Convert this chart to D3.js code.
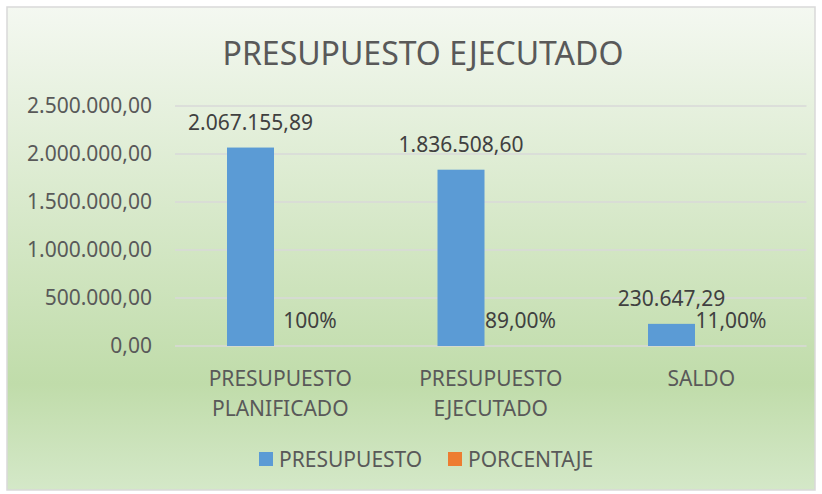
<!DOCTYPE html>
<html>
<head>
<meta charset="utf-8">
<script src="https://cdn.jsdelivr.net/npm/d3@7"></script>
<style>
  body { margin: 0; background: #fff; }
  text { font-family: "Noto Sans", sans-serif; }
</style>
</head>
<body>
<div id="chart"></div>
<script>
// data
var categories = [["PRESUPUESTO", "PLANIFICADO"], ["PRESUPUESTO", "EJECUTADO"], ["SALDO"]];
var seriesNames = ["PRESUPUESTO", "PORCENTAJE"];
var presupuesto = [2067155.89, 1836508.60, 230647.29];
var porcentaje = [1, 0.89, 0.11];
var porcentajeLabels = ["100%", "89,00%", "11,00%"];
var yTicks = [0, 500000, 1000000, 1500000, 2000000, 2500000];

var colors = ["#5b9bd5", "#ed7d31"];

var W = 822, H = 494;
var margin = {top: 106, right: 16, bottom: 148, left: 175};

var es = d3.formatLocale({decimal: ",", thousands: ".", grouping: [3], currency: ["", ""]});
var fmt = es.format(",.2f");

var svg = d3.select("#chart")
  .append("svg")
    .attr("width", W)
    .attr("height", H);

// background gradient
var grad = svg.append("defs").append("linearGradient")
    .attr("id", "bg")
    .attr("x1", 0).attr("y1", 0).attr("x2", 0).attr("y2", 1);
grad.append("stop").attr("offset", "0%").attr("stop-color", "#f4f8f1");
grad.append("stop").attr("offset", "78%").attr("stop-color", "#c0dcaa");
grad.append("stop").attr("offset", "100%").attr("stop-color", "#d4e8c8");

svg.append("rect")
    .attr("x", 7).attr("y", 7)
    .attr("width", 808).attr("height", 483)
    .attr("fill", "url(#bg)")
    .attr("stroke", "#d9d9d9")
    .attr("stroke-width", 1.5);

// title
svg.append("text")
    .attr("x", 423).attr("y", 65)
    .attr("text-anchor", "middle")
    .attr("font-size", 32)
    .attr("fill", "#595959")
    .text("PRESUPUESTO EJECUTADO");

// scales
var x0 = d3.scaleBand()
  .domain(d3.range(categories.length))
  .range([margin.left, W - margin.right + 0.5]);

var x1 = d3.scaleBand()
  .domain(seriesNames)
  .range([0, x0.bandwidth()])
  .paddingInner(0.21)
  .paddingOuter(0.874)
  .align(0.5);

var y = d3.scaleLinear()
  .domain([0, 2500000])
  .range([H - margin.bottom, margin.top]);

// gridlines
svg.append("g")
  .selectAll("line")
  .data(yTicks)
  .enter()
  .append("line")
    .attr("x1", margin.left)
    .attr("x2", W - margin.right + 0.5)
    .attr("y1", function(d) { return y(d); })
    .attr("y2", function(d) { return y(d); })
    .attr("stroke", "#d9d9d9")
    .attr("stroke-width", 1.5);

// y axis labels
var yAxis = svg.append("g")
  .attr("transform", "translate(" + (margin.left - 23) + ",0)")
  .call(d3.axisLeft(y).tickValues(yTicks).tickFormat(fmt).tickSize(0).tickPadding(0));
yAxis.select(".domain").remove();
yAxis.selectAll("text")
    .attr("font-family", "Noto Sans")
    .attr("font-size", 21)
    .attr("fill", "#595959");

// category labels
var cat = svg.append("g")
  .selectAll("text")
  .data(categories)
  .enter()
  .append("text")
    .attr("text-anchor", "middle")
    .attr("font-size", 21)
    .attr("fill", "#595959")
    .attr("transform", function(d, i) { return "translate(" + (x0(i) + x0.bandwidth() / 2) + ",386)"; });
cat.selectAll("tspan")
  .data(function(d) { return d; })
  .enter()
  .append("tspan")
    .attr("x", 0)
    .attr("dy", function(d, i) { return i === 0 ? 0 : 30; })
    .text(function(d) { return d; });

// bars
var series = [presupuesto, porcentaje];
var groups = svg.append("g")
  .selectAll("g")
  .data(series)
  .enter()
  .append("g")
    .attr("fill", function(d, i) { return colors[i]; });

groups.selectAll("rect")
  .data(function(d, s) { return d.map(function(v, i) { return {s: s, i: i, v: v}; }); })
  .enter()
  .append("rect")
    .attr("x", function(d) { return x0(d.i) + x1(seriesNames[d.s]); })
    .attr("width", x1.bandwidth())
    .attr("y", function(d) { return y(d.v); })
    .attr("height", function(d) { return y(0) - y(d.v); });

// value labels
groups.selectAll("text")
  .data(function(d, s) { return d.map(function(v, i) { return {s: s, i: i, v: v}; }); })
  .enter()
  .append("text")
    .attr("x", function(d) { return x0(d.i) + x1(seriesNames[d.s]) + x1.bandwidth() / 2; })
    .attr("y", function(d) { return y(d.v) - 18; })
    .attr("text-anchor", "middle")
    .attr("font-size", 21)
    .attr("fill", "#404040")
    .text(function(d) { return d.s === 0 ? fmt(d.v) : porcentajeLabels[d.i]; });

// legend
var legendX = [259, 448];
var legend = svg.append("g")
  .selectAll("g")
  .data(seriesNames)
  .enter()
  .append("g")
    .attr("transform", function(d, i) { return "translate(" + legendX[i] + ",452)"; });
legend.append("rect")
    .attr("width", 14).attr("height", 14)
    .attr("fill", function(d, i) { return colors[i]; });
legend.append("text")
    .attr("x", 20).attr("y", 15)
    .attr("font-size", 21)
    .attr("fill", "#595959")
    .text(function(d) { return d; });
</script>
</body>
</html>
